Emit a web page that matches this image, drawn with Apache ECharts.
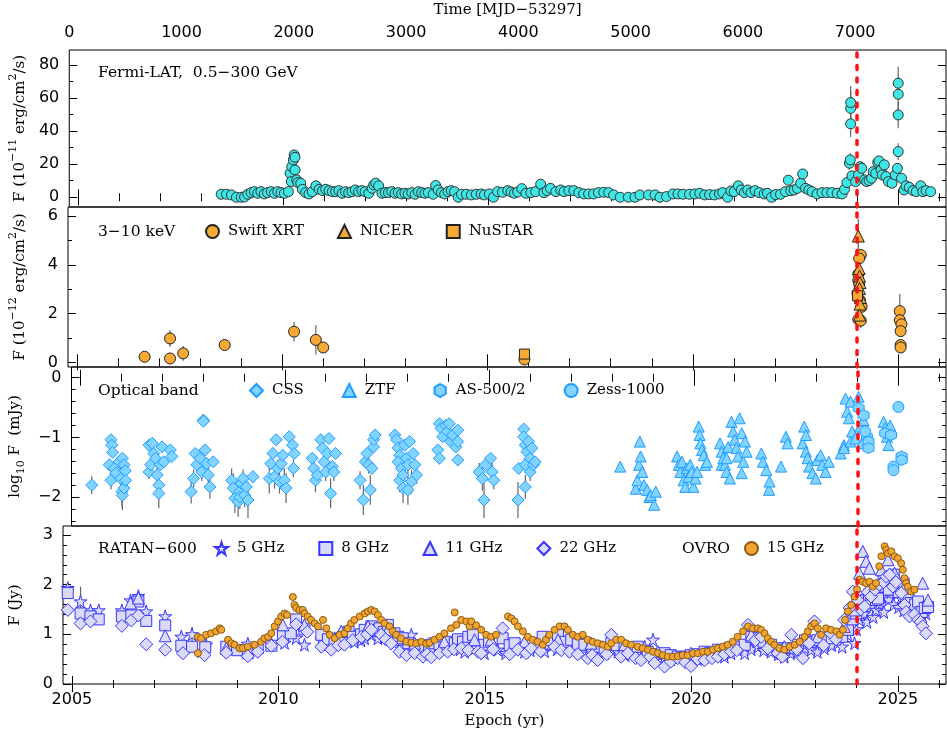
<!DOCTYPE html>
<html>
<head>
<meta charset="utf-8">
<title>Multiband light curves</title>
<script src="https://cdn.jsdelivr.net/npm/echarts@6/dist/echarts.min.js"></script>
<style>
  html, body { margin: 0; padding: 0; background: #fff; }
  #chart { width: 947px; height: 733px; }
</style>
</head>
<body>
<div id="chart"></div>
<script>
// time axis: decimal years, left edge = MJD 53297
const XMIN = 2004.785
const XMAX = 2026.165
const FLARE_EPOCH = 2024.0

const yearMajor = [2005, 2010, 2015, 2020, 2025]
const yearMinor = [2005, 2006, 2007, 2008, 2009, 2010, 2011, 2012, 2013, 2014, 2015, 2016, 2017, 2018, 2019, 2020, 2021, 2022, 2023, 2024, 2025, 2026]

const fermiTicks = [0, 20, 40, 60, 80]
const fermiMinor = [0, 10, 20, 30, 40, 50, 60, 70, 80]
const xrayTicks = [0, 2, 4, 6]
const xrayMinor = [0, 1, 2, 3, 4, 5, 6]
const optTicks = [-2, -1, 0]
const optMinor = [-2.4, -2.2, -2, -1.8, -1.6, -1.4, -1.2, -1, -0.8, -0.6, -0.4, -0.2, 0]
const radioTicks = [0, 1, 2, 3]
const radioMinor = [0, 0.2, 0.4, 0.6, 0.8, 1, 1.2, 1.4, 1.6, 1.8, 2, 2.2, 2.4, 2.6, 2.8, 3]

// [epoch, flux, error]
const fermi = [
  [2008.49,1.8],[2008.62,1.8],[2008.74,1.4],[2008.86,0],[2008.98,0],[2009.06,0.2],[2009.14,1.8],[2009.22,2.8],[2009.30,3.4],[2009.38,2.4],
  [2009.46,3.4],[2009.54,2.0],[2009.62,2.8],[2009.71,3.4],[2009.79,2.4],[2009.87,3.4],[2009.95,2.8],[2010.03,2.4],[2010.13,3.4],[2010.17,14.5,2],
  [2010.20,9.5],[2010.21,18.5,2.5],[2010.25,22.6,3],[2010.27,25.6,3],[2010.29,24.2,3],[2010.29,16.5,2],[2010.33,10.5],[2010.36,8.9],[2010.43,8.5],[2010.47,4.8],
  [2010.55,2.8],[2010.63,2.0],[2010.71,3.4],[2010.80,6.9],[2010.88,4.8],[2010.96,4.0],[2011.04,4.8],[2011.12,4.0],[2011.20,3.4],[2011.28,3.4],
  [2011.36,4.0],[2011.44,2.4],[2011.52,3.4],[2011.60,2.8],[2011.68,3.4],[2011.76,4.4],[2011.84,3.4],[2011.92,4.0],[2012.00,3.4],[2012.09,2.4],
  [2012.17,5.4],[2012.21,7.5],[2012.26,8.5],[2012.33,6.9],[2012.41,2.4],[2012.49,2.8],[2012.57,2.8],[2012.65,3.4],[2012.73,2.4],[2012.81,2.8],
  [2012.89,2.0],[2012.97,2.4],[2013.05,2.0],[2013.14,2.8],[2013.22,1.8],[2013.30,3.4],[2013.38,2.8],[2013.46,2.4],[2013.54,2.8],[2013.66,1.8],
  [2013.72,7.1],[2013.78,4.4],[2013.86,2.8],[2013.94,2.0],[2014.02,3.4],[2014.10,4.0],[2014.18,3.4],[2014.27,0],[2014.35,1.8],[2014.47,1.8],
  [2014.59,1.4],[2014.71,1.8],[2014.83,2.0],[2014.91,1.4],[2015.03,2.0],[2015.13,0],[2015.23,3.4],[2015.35,3.0],[2015.48,4.0],[2015.56,3.2],
  [2015.64,2.4],[2015.72,3.2],[2015.82,5.2],[2015.92,2.4],[2016.04,2.8],[2016.16,3.4],[2016.28,7.9],[2016.36,2.8],[2016.44,4.0],[2016.52,5.4],
  [2016.65,3.4],[2016.77,4.4],[2016.85,3.4],[2016.97,4.0],[2017.09,4.0],[2017.21,2.8],[2017.33,2.0],[2017.45,2.0],[2017.57,2.0],[2017.69,2.8],
  [2017.82,3.0],[2017.94,2.8],[2018.06,1.4],[2018.22,0],[2018.42,0],[2018.58,0],[2018.70,1.4],[2018.91,1.4],[2019.07,1.4],[2019.19,0],
  [2019.35,0.4],[2019.51,2.0],[2019.63,2.0],[2019.75,1.8],[2019.91,1.8],[2020.04,2.0],[2020.16,2.4],[2020.28,1.4],[2020.40,1.6],[2020.52,1.4],
  [2020.64,2.0],[2020.72,2.8],[2020.84,0],[2020.92,3.8],[2021.00,3.4],[2021.10,6.9],[2021.17,4.4],[2021.25,2.8],[2021.33,4.4],[2021.41,2.8],
  [2021.51,4.0],[2021.61,2.8],[2021.73,2.0],[2021.81,2.4],[2021.91,0],[2022.01,1.6],[2022.13,1.8],[2022.25,3.4],[2022.32,10.3],[2022.38,4.0],
  [2022.46,4.4],[2022.54,5.4],[2022.62,8.5],[2022.67,14.1,2],[2022.74,5.4],[2022.82,4.4],[2022.90,3.4],[2023.02,2.0],[2023.14,2.8],[2023.26,2.8],
  [2023.38,2.8],[2023.51,2.4],[2023.63,2.0],[2023.69,4.8],[2023.75,8.9],[2023.81,20.6,4],[2023.83,22.6,4],[2023.84,44.4,8],[2023.84,53.8,10],[2023.84,57.3,10],
  [2023.87,12.9],[2023.96,9.5],[2024.03,13.5],[2024.07,18.5],[2024.11,17.5],[2024.18,10.5],[2024.23,9.5],[2024.29,10.1],[2024.35,11.5],[2024.39,15.5],
  [2024.45,14.5],[2024.50,21.0,3],[2024.53,22.0,3],[2024.58,16.5],[2024.61,13.5],[2024.66,19.6],[2024.70,12.5],[2024.76,9.5],[2024.85,8.5],[2024.93,13.5],
  [2024.98,17.5],[2025.00,27.6,5],[2025.00,49.8,8],[2025.00,62.3,10],[2025.00,69.0,10],[2025.08,11.5],[2025.14,4.4],[2025.19,6.9],[2025.27,6.0],[2025.36,4.0],
  [2025.44,3.4],[2025.55,6.9],[2025.60,3.4],[2025.68,4.0],[2025.79,3.4]
]

const swift = [
  [2006.65,0.23],[2007.27,0.98,0.35],[2007.27,0.16],[2007.59,0.37,0.3],[2008.60,0.71],[2010.29,1.26,0.4],[2010.82,0.92,0.6],[2011.00,0.61],
  [2015.90,0.12],[2024.09,4.40],[2024.05,4.26],[2024.03,3.62],[2024.03,3.37],[2024.05,3.21],[2024.01,2.83],[2024.07,2.55],[2024.11,2.28],
  [2024.03,1.76],[2024.09,1.71,0.3],[2025.04,2.10,0.7],[2025.04,1.73],[2025.08,1.56],[2025.06,1.28],[2025.06,0.71],[2025.06,0.61]
]
const nicer = [
  [2024.03,5.18,0.7],[2024.05,3.85],[2024.06,3.54],[2024.07,3.27],[2024.06,3.03],[2024.08,2.66],[2024.07,2.39],[2024.06,1.94,0.4]
]
const nustar = [[2015.90,0.34],[2024.01,2.73]]

const css = [
  [2005.28,-1.80,0.15],
  [2005.71,-1.46,0.1],[2005.75,-1.04],[2005.75,-1.72,0.15],[2005.77,-1.13],[2005.79,-1.25],[2005.83,-1.52,0.12],[2005.87,-1.60,0.15],[2005.95,-1.41],
  [2005.99,-1.69,0.2],[2006.02,-1.91,0.25],[2006.03,-1.97,0.25],[2006.03,-1.35],[2006.07,-1.46],[2006.07,-1.85,0.2],[2006.10,-1.56],[2006.11,-1.72,0.15],
  [2006.68,-1.13],[2006.68,-1.58,0.12],[2006.72,-1.46],[2006.76,-1.10],[2006.80,-1.27],[2006.84,-1.35],[2006.88,-1.63,0.15],[2006.92,-1.80,0.2],
  [2006.92,-1.94,0.25],[2006.96,-1.46],[2007.00,-1.16],[2007.04,-1.41],[2007.20,-1.21],[2007.24,-1.32],
  [2007.71,-1.91,0.2],[2007.77,-1.69,0.15],[2007.81,-1.27],[2007.85,-1.46,0.12],[2007.93,-1.35],[2007.97,-1.58,0.15],[2008.01,-0.71],[2008.01,-0.73],
  [2008.05,-1.21],[2008.09,-1.44],[2008.13,-1.63,0.15],[2008.17,-1.83,0.2],[2008.25,-1.41],
  [2008.70,-1.72,0.2],[2008.74,-1.85,0.25],[2008.78,-2.02,0.25],[2008.86,-2.08,0.25],[2008.90,-1.91,0.2],[2008.90,-2.00,0.2],[2008.94,-1.77,0.15],
  [2008.98,-1.69,0.15],[2009.02,-1.97,0.2],[2009.06,-1.83,0.2],[2009.10,-2.05,0.3],[2009.22,-1.66,0.1],
  [2009.62,-1.69,0.25],[2009.66,-1.44,0.1],[2009.71,-1.27],[2009.75,-1.66,0.2],[2009.79,-1.04],[2009.83,-1.52,0.15],[2009.87,-1.74,0.2],[2009.91,-1.44],
  [2009.95,-1.30],[2009.99,-1.72,0.2],[2010.03,-1.85,0.25],[2010.11,-0.99],[2010.19,-1.13],[2010.21,-1.52,0.15],[2010.23,-1.27],
  [2010.67,-1.35],[2010.71,-1.52,0.15],[2010.75,-1.72,0.2],[2010.80,-1.63,0.15],[2010.88,-1.04],[2010.92,-1.18],[2010.96,-1.41],[2011.00,-1.58,0.15],
  [2011.04,-1.27],[2011.08,-1.02],[2011.12,-1.94,0.25],[2011.16,-1.49],[2011.20,-1.58,0.15],[2011.24,-1.27],
  [2011.84,-1.72,0.15],[2011.92,-2.05,0.25],[2011.97,-1.41],[2012.01,-1.27],[2012.05,-1.46,0.15],[2012.09,-1.88,0.25],[2012.13,-1.52],[2012.17,-1.16],
  [2012.17,-1.04],[2012.21,-0.96],
  [2012.69,-0.96],[2012.73,-1.04],[2012.77,-1.18],[2012.81,-1.30],[2012.77,-1.41],[2012.81,-1.72,0.2],[2012.85,-1.52,0.15],[2012.89,-1.63,0.2],
  [2012.89,-1.85,0.25],[2012.93,-1.13],[2012.97,-1.35],[2013.01,-1.46,0.15],[2013.01,-1.88,0.25],[2013.05,-1.07],[2013.10,-1.74,0.2],[2013.14,-1.27],
  [2013.18,-1.46],[2013.22,-1.63,0.15],
  [2013.74,-1.21],[2013.78,-1.35,0.1],[2013.78,-0.77],[2013.82,-0.85],[2013.86,-0.99],[2013.94,-0.80],[2013.98,-0.90],[2014.02,-0.77],[2014.06,-1.07],
  [2014.10,-0.96],[2014.18,-1.16],[2014.23,-0.88],[2014.23,-1.07],[2014.23,-1.38],
  [2014.75,-1.58,0.15],[2014.83,-1.69,0.2],[2014.87,-2.05,0.3],[2014.91,-1.46],[2015.03,-1.35],[2015.07,-1.58,0.15],[2015.11,-1.72,0.15],
  [2015.70,-2.05,0.3],[2015.72,-1.52],[2015.84,-0.86],[2015.84,-0.99],[2015.88,-1.13],[2015.88,-1.46],[2015.88,-1.83,0.2],[2015.92,-1.24],[2015.96,-1.07],
  [2016.00,-1.35],[2016.00,-1.58,0.15],[2016.04,-1.18],[2016.08,-1.46],[2016.12,-1.41]
]
const ztf = [
  [2018.20,-1.49],[2018.58,-1.86,0.1],[2018.62,-1.72],[2018.66,-1.46],[2018.68,-1.07],[2018.70,-1.32],[2018.74,-1.58],[2018.78,-1.80],[2018.86,-1.88],
  [2018.91,-2.00,0.1],[2018.95,-1.97],[2019.03,-2.13,0.1],[2019.07,-1.91],
  [2019.59,-1.32],[2019.63,-1.46],[2019.67,-1.58],[2019.71,-1.41],[2019.75,-1.72],[2019.79,-1.83,0.08],[2019.83,-1.52],[2019.87,-1.66],[2019.91,-1.46],
  [2019.95,-1.58],[2019.99,-1.83],[2020.04,-1.69],[2020.08,-1.58],[2020.12,-0.82],[2020.14,-0.96],[2020.16,-1.10],[2020.20,-1.21],[2020.24,-1.30],
  [2020.28,-1.46],[2020.32,-1.41],
  [2020.64,-1.10],[2020.68,-1.24],[2020.68,-1.46],[2020.72,-1.35],[2020.76,-1.46],[2020.80,-1.58],[2020.80,-1.35],[2020.84,-1.16],[2020.88,-1.69,0.08],
  [2020.92,-0.74],[2020.96,-0.90],[2021.00,-1.04],[2021.04,-1.18],[2021.08,-1.32],[2021.12,-0.68],[2021.17,-0.93],[2021.17,-1.60],[2021.21,-1.41],
  [2021.25,-1.07],[2021.29,-1.24],
  [2021.65,-1.27],[2021.69,-1.41],[2021.77,-1.55],[2021.84,-1.88,0.08],[2021.85,-1.74],[2022.13,-1.49],[2022.25,-0.99],[2022.29,-1.10],
  [2022.66,-1.10],[2022.70,-0.82],[2022.74,-0.96],[2022.74,-1.24],[2022.78,-1.35],[2022.82,-1.49],[2022.90,-1.60],[2022.98,-1.69],[2023.02,-1.38],
  [2023.10,-1.30],[2023.14,-1.46],[2023.22,-1.58],[2023.30,-1.41],
  [2023.59,-1.27],[2023.67,-1.13],[2023.67,-1.18],[2023.71,-0.35],[2023.75,-0.57],[2023.79,-0.68],[2023.83,-0.40],[2023.83,-1.07],[2023.87,-0.90],
  [2023.95,-1.02],[2024.03,-0.32],[2024.07,-0.82],[2024.11,-1.10],[2024.15,-0.71],
  [2024.64,-0.74],[2024.68,-0.85],[2024.72,-0.99],[2024.76,-1.13],[2024.80,-0.80]
]
const as500 = [[2024.03,-0.51],[2024.15,-0.63],[2024.23,-0.99],[2024.27,-1.07],[2024.27,-1.18],[2024.68,-0.93],[2024.82,-0.96],[2025.08,-1.32],[2025.08,-1.38]]
const zess = [[2025.00,-0.49],[2024.88,-1.49],[2024.88,-1.55],[2024.19,-0.90]]

const ratan5 = [
  [2004.90,1.93,0.1],[2005.21,1.66,0.3],[2005.45,1.48],[2005.65,1.48],[2006.21,1.48],[2006.42,1.68],[2006.61,1.77],[2006.80,1.46],[2007.26,1.36],
  [2007.65,0.95],[2007.91,1.0,0.15],[2008.25,0.79],[2008.78,0.72],[2009.26,0.81],[2009.83,0.82],[2010.15,0.83],[2010.43,0.93],[2010.63,0.79],
  [2011.04,0.89],[2011.20,0.80],[2011.36,0.92],[2011.52,0.99],[2011.70,0.95],[2011.84,0.85],[2012.00,0.88],[2012.09,0.92],[2012.25,0.99],[2012.41,0.92],
  [2012.57,0.95],[2012.70,0.90],[2012.81,0.82],[2012.95,0.80],[2013.05,0.75],[2013.22,0.99],[2013.30,0.70],[2013.46,0.72],[2013.60,0.78],[2013.78,0.69],
  [2013.90,0.82],[2014.02,0.75],[2014.15,0.72],[2014.27,0.79],[2014.40,0.70],[2014.51,0.65],[2014.60,0.78],[2014.75,0.72],[2014.99,0.62],[2015.10,0.72],
  [2015.31,0.69],[2015.50,0.62],[2015.64,0.75],[2015.80,0.70],[2015.96,0.65],[2016.10,0.68],[2016.28,0.75],[2016.45,0.66],[2016.60,0.79],[2016.75,0.70],
  [2016.93,0.72],[2017.10,0.68],[2017.25,0.75],[2017.40,0.72],[2017.57,0.65],[2017.75,0.60],[2017.90,0.62],[2018.05,0.70],[2018.22,0.65],[2018.40,0.58],
  [2018.54,0.62],[2018.70,0.68],[2018.87,0.75],[2019.07,0.89],[2019.20,0.60],[2019.35,0.55],[2019.50,0.50],[2019.67,0.52],[2019.85,0.55],[2019.99,0.48],
  [2020.15,0.50],[2020.32,0.55],[2020.50,0.60],[2020.64,0.58],[2020.80,0.55],[2020.96,0.62],[2021.10,0.70],[2021.29,0.62],[2021.45,0.70],[2021.61,0.75],
  [2021.75,0.68],[2021.93,0.65],[2022.10,0.60],[2022.25,0.55],[2022.40,0.62],[2022.58,0.65],[2022.75,0.72],[2022.90,0.69],[2023.05,0.65],[2023.22,0.72],
  [2023.40,0.78],[2023.54,0.82],[2023.65,0.75],[2023.79,0.99],[2023.95,0.82],[2024.00,1.10],[2024.07,1.29],[2024.19,1.42],[2024.25,1.25],[2024.35,1.56],
  [2024.40,1.35],[2024.47,1.49],[2024.55,1.62],[2024.60,1.76],[2024.66,1.45],[2024.72,1.96],[2024.78,1.70],[2024.84,1.86],[2024.90,1.60],[2024.96,1.83],
  [2025.02,1.55],[2025.08,1.73],[2025.14,1.48],[2025.20,1.63],[2025.26,1.45],[2025.32,1.53],[2025.40,1.58],[2025.52,1.49],[2025.60,1.35],[2025.68,1.42]
]
const ratan8 = [
  [2004.90,1.83],[2005.21,1.42],[2005.45,1.36],[2005.65,1.30],[2006.21,1.36],[2006.44,1.38],[2006.61,1.66],[2006.80,1.27],[2007.26,1.18],[2007.65,0.77],
  [2007.91,0.75],[2008.23,0.74],[2008.74,0.75],[2009.00,0.68],[2009.26,0.62],[2009.50,0.72],[2009.83,0.77],[2010.11,0.97],[2010.30,1.02],[2010.43,1.30],
  [2010.63,1.10],[2011.04,0.99],[2011.20,0.90],[2011.36,0.85],[2011.56,0.95],[2011.70,1.05],[2011.80,0.95],[2012.00,1.00],[2012.09,1.09],[2012.25,1.16],
  [2012.35,1.08],[2012.45,1.12],[2012.55,1.05],[2012.65,1.19],[2012.81,1.02],[2012.90,0.95],[2013.01,0.92],[2013.15,0.82],[2013.30,0.72],[2013.45,0.78],
  [2013.54,0.75],[2013.65,0.72],[2013.78,0.82],[2013.90,0.80],[2014.02,0.75],[2014.15,0.85],[2014.27,0.82],[2014.35,0.90],[2014.47,0.85],[2014.60,0.95],
  [2014.71,0.99],[2014.99,0.79],[2015.10,0.85],[2015.43,0.92],[2015.60,0.78],[2015.72,0.82],[2015.95,0.72],[2016.08,0.79],[2016.25,0.82],[2016.40,0.95],
  [2016.60,0.88],[2016.77,0.99],[2016.95,0.85],[2017.09,0.89],[2017.25,0.80],[2017.41,0.79],[2017.60,0.70],[2017.73,0.75],[2017.90,0.72],[2018.06,0.82],
  [2018.20,0.78],[2018.38,0.72],[2018.55,0.68],[2018.70,0.75],[2018.94,0.65],[2019.10,0.60],[2019.35,0.62],[2019.50,0.58],[2019.67,0.55],[2019.85,0.55],
  [2019.99,0.58],[2020.15,0.60],[2020.32,0.65],[2020.45,0.62],[2020.64,0.69],[2020.80,0.66],[2020.96,0.72],[2021.10,0.74],[2021.29,0.79],[2021.45,0.95],
  [2021.61,0.92],[2021.75,0.85],[2021.93,0.79],[2022.10,0.72],[2022.25,0.69],[2022.40,0.72],[2022.58,0.79],[2022.75,0.88],[2022.90,0.85],[2023.05,0.88],
  [2023.22,0.92],[2023.40,0.92],[2023.54,0.99],[2023.65,0.95],[2023.79,1.09],[2023.90,1.30],[2023.99,1.42],[2024.05,1.75],[2024.11,1.63],[2024.23,1.69],
  [2024.30,1.80],[2024.35,1.83],[2024.42,1.95],[2024.47,1.69],[2024.52,1.72],[2024.60,1.96],[2024.65,2.10],[2024.72,2.06],[2024.78,1.90],[2024.84,2.13],
  [2024.90,2.20],[2024.96,2.00],[2025.02,1.85],[2025.08,1.93],[2025.14,2.02],[2025.20,1.76],[2025.26,1.70],[2025.32,1.63],[2025.42,1.60],[2025.49,1.66],
  [2025.58,1.45],[2025.65,1.53],[2025.73,1.55]
]
const ratan11 = [
  [2006.42,1.63],[2006.61,1.73],[2007.26,0.97],[2008.74,0.72],[2010.11,1.19],[2010.63,1.19],[2011.52,1.06],[2012.17,1.16],[2012.65,1.09],[2013.30,0.82],
  [2014.02,0.85],[2014.75,0.89],[2015.15,0.89],[2015.96,0.85],[2016.77,0.89],[2017.57,0.82],[2018.38,0.79],[2019.19,0.65],[2019.99,0.62],[2020.80,0.72],
  [2021.45,0.99],[2022.25,0.75],[2023.06,0.95],[2023.70,1.16],[2023.95,1.49],[2024.07,2.23],[2024.15,2.67],[2024.23,2.47],[2024.31,2.33],[2024.60,2.30],
  [2024.76,2.50],[2024.92,2.23],[2025.16,1.96],[2025.60,2.03],[2025.73,1.69]
]
const ratan22 = [
  [2004.90,1.49],[2005.21,1.22],[2005.45,1.26],[2006.21,1.17],[2006.44,1.28],[2006.61,1.38],[2006.80,0.80],[2007.26,0.69],[2007.69,0.62],[2008.21,0.58],
  [2008.74,0.63],[2009.26,0.56],[2009.50,0.65],[2009.83,0.77],[2010.10,0.85],[2010.43,1.20],[2010.70,1.05],[2011.04,0.75],[2011.28,0.69],[2011.45,0.78],
  [2011.60,0.79],[2011.80,0.88],[2012.01,0.95],[2012.15,1.00],[2012.25,1.09],[2012.49,0.99],[2012.60,0.90],[2012.73,0.82],[2012.93,0.65],[2013.10,0.58],
  [2013.30,0.62],[2013.50,0.55],[2013.60,0.60],[2013.70,0.54],[2013.90,0.62],[2014.10,0.65],[2014.25,0.70],[2014.43,0.72],[2014.60,0.68],[2014.83,0.65],
  [2014.91,0.62],[2015.20,0.70],[2015.43,1.12],[2015.60,0.60],[2015.80,0.69],[2016.00,0.62],[2016.12,0.72],[2016.35,0.66],[2016.69,0.75],[2016.85,0.68],
  [2017.05,0.65],[2017.25,0.60],[2017.49,0.52],[2017.60,0.58],[2017.73,0.48],[2017.95,0.60],[2018.06,0.99],[2018.30,0.55],[2018.46,0.62],[2018.65,0.52],
  [2018.78,0.48],[2019.00,0.55],[2019.11,0.42],[2019.35,0.35],[2019.50,0.45],[2019.67,0.52],[2019.85,0.44],[2019.99,0.36],[2020.15,0.50],[2020.32,0.48],
  [2020.50,0.52],[2020.64,0.55],[2020.80,0.60],[2020.96,0.65],[2021.10,0.68],[2021.37,1.19],[2021.55,0.88],[2021.69,0.95],[2021.85,0.72],[2022.09,0.62],
  [2022.20,0.55],[2022.42,0.99],[2022.55,0.70],[2022.70,0.52],[2022.85,0.82],[2022.98,1.26],[2023.20,0.78],[2023.38,1.02],[2023.50,0.90],[2023.70,1.29],
  [2023.83,1.53],[2023.91,1.86],[2024.03,1.69],[2024.10,1.50],[2024.19,1.56],[2024.27,1.85],[2024.35,1.76],[2024.45,1.90],[2024.55,2.00],[2024.65,2.05],
  [2024.72,2.16],[2024.80,2.20],[2024.88,1.96],[2024.95,2.05],[2025.08,1.83],[2025.16,1.59],[2025.20,1.45],[2025.28,1.36],[2025.40,1.40],[2025.49,1.29],
  [2025.55,1.25],[2025.60,1.16],[2025.68,1.02]
]
const ovro15 = [
  [2008.05,0.62,0.1],[2008.05,0.95],[2008.13,0.92],[2008.25,0.99],[2008.37,1.02],[2008.49,1.06],[2008.58,1.12],[2008.62,1.09],[2008.78,0.89],[2008.86,0.82],
  [2008.94,0.79],[2009.06,0.72],[2009.14,0.72],[2009.26,0.75],[2009.42,0.79],[2009.58,0.85],[2009.66,0.92],[2009.75,0.95],[2009.83,1.02],[2009.91,1.16],
  [2009.99,1.26],[2010.07,1.36],[2010.15,1.42],[2010.21,1.39],[2010.35,1.75],[2010.39,1.59],[2010.43,1.53],[2010.51,1.49],[2010.59,1.49],[2010.63,1.42],
  [2010.71,1.36],[2010.79,1.29],[2010.88,1.22],[2010.96,1.16],[2011.08,1.29],[2011.16,1.12],[2011.24,0.99],[2011.36,0.92],[2011.48,0.99],[2011.60,1.02],
  [2011.68,1.12],[2011.76,1.22],[2011.84,1.29],[2011.97,1.36],[2012.09,1.42],[2012.17,1.46],[2012.25,1.49],[2012.33,1.46],[2012.41,1.39],[2012.49,1.29],
  [2012.57,1.22],[2012.69,1.16],[2012.77,1.06],[2012.85,0.99],[2012.97,0.92],[2013.10,0.85],[2013.22,0.83],[2013.34,0.82],[2013.46,0.85],[2013.58,0.81],
  [2013.66,0.83],[2013.78,0.89],[2013.90,0.95],[2014.02,1.02],[2014.18,1.12],[2014.27,1.44],[2014.31,1.19],[2014.43,1.29],[2014.55,1.26],[2014.63,1.16],
  [2014.67,1.26],[2014.79,1.18],[2014.91,1.09],[2015.03,0.99],[2015.15,0.95],[2015.27,0.99],[2015.56,1.36],[2015.64,1.32],[2015.72,1.26],[2015.80,1.16],
  [2015.92,1.06],[2016.04,0.95],[2016.16,0.89],[2016.28,0.85],[2016.40,0.79],[2016.48,0.89],[2016.56,0.99],[2016.69,1.09],[2016.81,1.16],[2016.93,1.16],
  [2017.01,1.09],[2017.13,0.99],[2017.25,0.95],[2017.37,0.99],[2017.49,0.89],[2017.61,0.85],[2017.73,0.82],[2017.86,0.79],[2017.98,0.75],[2018.06,0.82],
  [2018.18,0.89],[2018.30,0.89],[2018.42,0.82],[2018.54,0.79],[2018.70,0.75],[2018.82,0.72],[2018.95,0.69],[2019.07,0.65],[2019.19,0.62],[2019.31,0.58],
  [2019.43,0.55],[2019.55,0.55],[2019.67,0.56],[2019.79,0.58],[2019.91,0.58],[2020.04,0.62],[2020.16,0.62],[2020.28,0.65],[2020.40,0.65],[2020.52,0.69],
  [2020.64,0.72],[2020.76,0.75],[2020.88,0.79],[2021.00,0.85],[2021.12,0.95],[2021.25,1.06],[2021.37,1.16],[2021.49,1.12],[2021.61,1.12],[2021.69,1.09],
  [2021.77,1.02],[2021.85,0.92],[2021.93,0.85],[2022.01,0.79],[2022.13,0.72],[2022.25,0.69],[2022.38,0.75],[2022.50,0.79],[2022.62,0.85],[2022.74,0.95],
  [2022.82,1.06],[2022.90,1.16],[2022.98,1.22],[2023.06,1.12],[2023.14,0.99],[2023.26,1.12],[2023.38,1.09],[2023.51,1.06],[2023.59,0.99],[2023.67,1.09],
  [2023.72,1.29],[2023.79,1.46],[2023.87,1.59],[2023.95,1.76],[2024.01,1.90],[2024.07,2.10],[2024.15,2.06],[2024.23,2.03],[2024.31,2.06],[2024.39,1.96],
  [2024.47,2.03],[2024.55,2.37],[2024.60,2.57],[2024.68,2.77],[2024.72,2.70],[2024.76,2.63],[2024.84,2.67],[2024.92,2.57],[2025.00,2.53],[2025.08,2.43],
  [2025.12,2.30],[2025.16,2.13],[2025.20,2.03],[2025.24,1.96],[2025.32,1.86],[2025.40,1.90]
]

const SERIF = "'DejaVu Serif', serif"
const SANS = "'DejaVu Sans', sans-serif"
const STAR = "path://M50,2 L61,37 L98,37 L68,59 L79,95 L50,73 L21,95 L32,59 L2,37 L39,37 Z"
const HEXAGON = "path://M50,0 L93,25 L93,75 L50,100 L7,75 L7,25 Z"

const panels = [
  { top: 50, height: 157, range: [-5.9, 89.1], major: fermiTicks, minor: fermiMinor,
    name: "{a|F (10}{sup|−11}{a| erg/cm}{sup|2}{a|/s)}" },
  { top: 207, height: 160, range: [-0.19, 6.37], major: xrayTicks, minor: xrayMinor,
    name: "{a|F (10}{sup|−12}{a| erg/cm}{sup|2}{a|/s)}" },
  { top: 367, height: 159, range: [-2.486, 0.18], major: optTicks, minor: optMinor,
    name: "{b|log}{sub|10}{b| F  (mJy)}" },
  { top: 526, height: 158, range: [0, 3.18], major: radioTicks, minor: radioMinor,
    name: "{a|F (Jy)}" },
]

const nameRich = {
  a: { fontFamily: SERIF, fontSize: 15, color: "#000", verticalAlign: "bottom" },
  sup: { fontFamily: SERIF, fontSize: 11, color: "#000", verticalAlign: "bottom", padding: [0, 0, 9, 0] },
  b: { fontFamily: SERIF, fontSize: 15, color: "#000", verticalAlign: "top" },
  sub: { fontFamily: SERIF, fontSize: 11, color: "#000", verticalAlign: "top", padding: [8, 0, 0, 0] },
}

const plain = v => String(v).replace("-", "−")

function xTicks(g, pos, values, len, withLabels) {
  return {
    type: "value", gridIndex: g, position: pos, min: XMIN, max: XMAX,
    axisLine: { show: false },
    splitLine: { show: false },
    axisTick: { show: true, inside: true, length: len, customValues: values, lineStyle: { color: "#000", width: 1 } },
    axisLabel: withLabels
      ? { show: true, customValues: values, margin: 8, color: "#000", fontFamily: SANS, fontSize: 16, formatter: plain }
      : { show: false },
  }
}

function yTicks(g, pos, p, values, len, withLabels) {
  const axis = {
    type: "value", gridIndex: g, position: pos, min: p.range[0], max: p.range[1],
    axisLine: { show: false },
    splitLine: { show: false },
    axisTick: { show: true, inside: true, length: len, customValues: values, lineStyle: { color: "#000", width: 1 } },
    axisLabel: { show: false },
  }
  if (withLabels) {
    axis.axisLabel = { show: true, customValues: values, margin: 10, color: "#000", fontFamily: SANS, fontSize: 16, formatter: plain }
    axis.name = p.name
    axis.nameLocation = "middle"
    axis.nameRotate = 90
    axis.nameGap = 40
    axis.nameTextStyle = { rich: nameRich }
  }
  return axis
}

const xAxes = []
const yAxes = []
const xMain = []
const yMain = []
panels.forEach((p, g) => {
  xMain.push(xAxes.length)
  xAxes.push(xTicks(g, "bottom", yearMajor, 8, g === 3))
  xAxes.push(xTicks(g, "bottom", yearMinor, 4, false))
  xAxes.push(xTicks(g, "top", yearMajor, 8, false))
  xAxes.push(xTicks(g, "top", yearMinor, 4, false))
  yMain.push(yAxes.length)
  yAxes.push(yTicks(g, "left", p, p.major, 8, true))
  yAxes.push(yTicks(g, "left", p, p.minor, 4, false))
  yAxes.push(yTicks(g, "right", p, p.major, 8, false))
  yAxes.push(yTicks(g, "right", p, p.minor, 4, false))
})
xAxes[xMain[3]].name = "Epoch (yr)"
xAxes[xMain[3]].nameLocation = "middle"
xAxes[xMain[3]].nameGap = 30
xAxes[xMain[3]].nameTextStyle = { fontFamily: SERIF, fontSize: 15, color: "#000" }
// MJD scale on top of the first panel
xAxes.push({
  type: "value", gridIndex: 0, position: "top", min: 0, max: (XMAX - XMIN) * 365.25, interval: 1000,
  axisLine: { show: false }, axisTick: { show: false }, splitLine: { show: false },
  axisLabel: { margin: 9, color: "#000", fontFamily: SANS, fontSize: 16, formatter: plain },
  name: "Time [MJD−53297]", nameLocation: "middle", nameGap: 32,
  nameTextStyle: { fontFamily: SERIF, fontSize: 15, color: "#000" },
})

function scatter(name, data, g, symbol, size, color, border) {
  return {
    name, type: "scatter", xAxisIndex: xMain[g], yAxisIndex: yMain[g],
    data: data.map(d => [d[0], d[1]]),
    symbol, symbolSize: size, z: 3, silent: true,
    itemStyle: { color, borderColor: border, borderWidth: 1, opacity: 1 },
  }
}

function errorBar(params, api) {
  const hi = api.coord([api.value(0), api.value(2)])
  const lo = api.coord([api.value(0), api.value(1)])
  return {
    type: "line",
    shape: { x1: hi[0], y1: hi[1], x2: lo[0], y2: lo[1] },
    style: { stroke: "#666", lineWidth: 1.2 },
  }
}

function errors(data, g) {
  return {
    type: "custom", xAxisIndex: xMain[g], yAxisIndex: yMain[g], z: 2, silent: true,
    renderItem: errorBar,
    data: data.filter(d => d[2]).map(d => [d[0], d[1] - d[2], d[1] + d[2]]),
  }
}

function flareLine(g) {
  return {
    type: "line", xAxisIndex: xMain[g], yAxisIndex: yMain[g], data: [], z: 10, silent: true,
    markLine: {
      silent: true, symbol: "none", animation: false,
      label: { show: false },
      lineStyle: { color: "#ff1111", type: [4, 8.5], width: 3.5, cap: "round" },
      data: [{ xAxis: FLARE_EPOCH }],
    },
  }
}

const CYAN = "#3ee6e6", ORANGE = "#f7a936", SKY = "#80d4ff", SKYLINE = "#1f9cff"
const LAVENDER = "#dadaf7", BLUE = "#3535ff"

const series = [
  errors(fermi, 0),
  scatter("Fermi-LAT", fermi, 0, "circle", 10, CYAN, "#333"),
  flareLine(0),

  errors(swift.concat(nicer), 1),
  scatter("Swift XRT", swift, 1, "circle", 11, ORANGE, "#222"),
  scatter("NICER", nicer, 1, "triangle", 12, ORANGE, "#222"),
  scatter("NuSTAR", nustar, 1, "rect", 10, ORANGE, "#222"),
  flareLine(1),

  errors(css.concat(ztf), 2),
  scatter("CSS", css, 2, "diamond", 12, SKY, SKYLINE),
  scatter("ZTF", ztf, 2, "triangle", 11, SKY, SKYLINE),
  scatter("AS-500/2", as500, 2, HEXAGON, 11, SKY, SKYLINE),
  scatter("Zess-1000", zess, 2, "circle", 11, SKY, SKYLINE),
  flareLine(2),

  errors(ratan5.concat(ovro15), 3),
  scatter("5 GHz", ratan5, 3, STAR, 13, LAVENDER, BLUE),
  scatter("8 GHz", ratan8, 3, "rect", 11, LAVENDER, BLUE),
  scatter("11 GHz", ratan11, 3, "triangle", 12, LAVENDER, BLUE),
  scatter("22 GHz", ratan22, 3, "diamond", 13, LAVENDER, BLUE),
  scatter("15 GHz", ovro15, 3, "circle", 7, "#f2a431", "#8a5a12"),
  flareLine(3),
]
series[series.length - 2].z = 4

const legendText = { fontFamily: SERIF, fontSize: 15, color: "#000", padding: [0, 0, 0, 4] }
const legends = [
  { data: ["Swift XRT", "NICER", "NuSTAR"], left: 205, top: 224, itemGap: 33 },
  { data: ["CSS", "ZTF", "AS-500/2", "Zess-1000"], left: 249, top: 383, itemGap: 38 },
  { data: ["5 GHz", "8 GHz", "11 GHz", "22 GHz"], left: 214, top: 541, itemGap: 34 },
  { data: ["15 GHz"], left: 744, top: 541 },
].map(l => Object.assign({ itemWidth: 13, itemHeight: 13, selectedMode: false, textStyle: legendText, padding: 0 }, l))

const labelStyle = { font: "15.5px " + SERIF, fill: "#000" }
const panelTexts = [
  { text: "Fermi-LAT,  0.5−300 GeV", left: 98, top: 65 },
  { text: "3−10 keV", left: 98, top: 224 },
  { text: "Optical band", left: 98, top: 383 },
  { text: "RATAN−600", left: 98, top: 541 },
  { text: "OVRO", left: 682, top: 541 },
]

const chart = echarts.init(document.getElementById("chart"), null, { renderer: "canvas" })
chart.setOption({
  animation: false,
  backgroundColor: "#fff",
  grid: panels.map(p => ({
    left: 63, right: 1, top: p.top, height: p.height,
    show: true, borderColor: "#000", borderWidth: 1, backgroundColor: "transparent",
  })),
  xAxis: xAxes,
  yAxis: yAxes,
  legend: legends,
  graphic: panelTexts.map(t => ({
    type: "text", left: t.left, top: t.top, silent: true,
    style: Object.assign({ text: t.text }, labelStyle),
  })),
  series,
})
</script>
</body>
</html>
